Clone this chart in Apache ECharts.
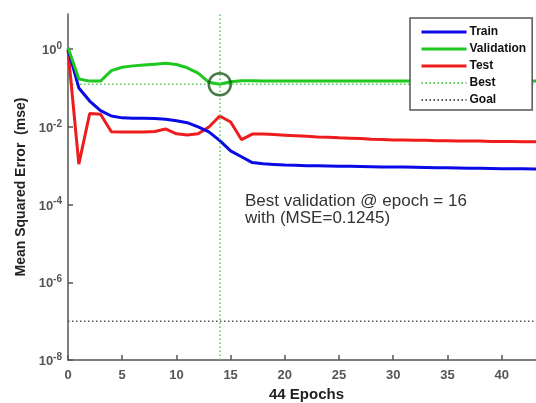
<!DOCTYPE html>
<html>
<head>
<meta charset="utf-8">
<script src="https://cdn.jsdelivr.net/npm/echarts@6/dist/echarts.min.js"></script>
<style>
  html, body { margin: 0; padding: 0; background: #fff; }
  #chart { width: 536px; height: 403px; }
</style>
</head>
<body>
<div id="chart"></div>
<script>
// performance curves (mse per epoch)
const epochs = [];
for (let i = 0; i <= 44; i++) epochs.push(i);

const trainMse = [1.0, 0.10, 0.046, 0.026, 0.019, 0.017, 0.0167, 0.0166, 0.0163, 0.0157, 0.0143, 0.0128, 0.0100, 0.0074, 0.0044,
  0.0024, 0.0017, 0.00120, 0.00112, 0.00108, 0.00104, 0.00102, 0.00100, 0.00099, 0.00098, 0.00097, 0.00096, 0.00095, 0.00094, 0.00093,
  0.00093, 0.00092, 0.00091, 0.00090, 0.00089, 0.00088, 0.00087, 0.00086, 0.00086, 0.00085, 0.00084, 0.00083, 0.00083, 0.00082, 0.00082];
const validMse = [1.1, 0.17, 0.15, 0.15, 0.28, 0.34, 0.37, 0.39, 0.41, 0.43, 0.40, 0.33, 0.24, 0.14, 0.1245,
  0.145, 0.153, 0.153, 0.152, 0.152, 0.152, 0.152, 0.151, 0.151, 0.151, 0.151, 0.150, 0.150, 0.150, 0.150,
  0.150, 0.150, 0.150, 0.150, 0.150, 0.150, 0.150, 0.150, 0.150, 0.150, 0.150, 0.150, 0.150, 0.150, 0.150];
const testMse = [0.95, 0.0011, 0.022, 0.021, 0.0075, 0.0074, 0.0074, 0.0074, 0.0076, 0.0088, 0.0066, 0.0062, 0.0066, 0.0099, 0.019,
  0.0133, 0.0047, 0.0065, 0.0065, 0.0063, 0.0061, 0.0059, 0.0057, 0.0055, 0.0054, 0.0052, 0.0051, 0.0050, 0.0048, 0.0047,
  0.0046, 0.0046, 0.0045, 0.0045, 0.0044, 0.0044, 0.0043, 0.0043, 0.0043, 0.0042, 0.0042, 0.0042, 0.0041, 0.0041, 0.0041];

const bestEpoch = 14;
const bestMse = 0.1245;
const goalMse = 1e-7;
const xTicks = [0, 5, 10, 15, 20, 25, 30, 35, 40];

const font = "'Liberation Sans', Arial, sans-serif";

function pairs(arr) {
  return epochs.map((e, i) => [e, arr[i]]);
}

const chart = echarts.init(document.getElementById("chart"));
chart.setOption({
  animation: false,
  textStyle: { fontFamily: font },
  grid: { left: 68, top: 14, right: -9, bottom: 43, outerBoundsMode: "none" },
  legend: {
    data: [
      { name: "Train", lineStyle: { width: 3 } },
      { name: "Validation", lineStyle: { width: 3 } },
      { name: "Test", lineStyle: { width: 3 } },
      "Best",
      "Goal"
    ],
    orient: "vertical",
    left: 410,
    top: 18,
    padding: [7, 6, 3, 10],
    itemGap: 3,
    itemWidth: 45,
    itemHeight: 14,
    backgroundColor: "#fff",
    borderColor: "#555",
    borderWidth: 1.5,
    borderRadius: 0,
    itemStyle: { opacity: 0 },
    textStyle: { fontFamily: font, fontSize: 12, fontWeight: "bold", color: "#111", lineHeight: 14, padding: [0, 0, 0, -2] }
  },
  xAxis: {
    type: "value",
    min: 0,
    max: 44,
    interval: 5,
    name: "44 Epochs",
    nameLocation: "middle",
    nameGap: 20,
    nameTextStyle: { fontFamily: font, fontSize: 15, fontWeight: "bold", color: "#222" },
    axisLine: { lineStyle: { color: "#555", width: 1.5 } },
    axisTick: { inside: true, length: 5, lineStyle: { color: "#555", width: 1.5 } },
    axisLabel: {
      margin: 9,
      fontFamily: font,
      fontSize: 13,
      fontWeight: "bold",
      color: "#555",
      showMaxLabel: false,
      formatter: v => (xTicks.indexOf(v) >= 0 ? String(v) : "")
    },
    splitLine: { show: false }
  },
  yAxis: {
    type: "log",
    logBase: 10,
    min: 1e-8,
    max: 8,
    interval: 2,
    splitNumber: 4,
    name: "Mean Squared Error  (mse)",
    nameLocation: "middle",
    nameGap: 40,
    nameTextStyle: { fontFamily: font, fontSize: 14, fontWeight: "bold", color: "#222" },
    axisLine: { show: true, lineStyle: { color: "#555", width: 1.5 } },
    axisTick: { inside: true, length: 5, lineStyle: { color: "#555", width: 1.5 } },
    axisLabel: {
      margin: 6,
      showMaxLabel: false,
      formatter: function (v) {
        const e = Math.log10(v);
        const r = Math.round(e);
        if (Math.abs(e - r) > 1e-6 || r % 2 !== 0) return "";
        return "{b|10}{s|" + r + "}";
      },
      rich: {
        b: { fontFamily: font, fontSize: 13, fontWeight: "bold", color: "#555", verticalAlign: "bottom", lineHeight: 16 },
        s: { fontFamily: font, fontSize: 10, fontWeight: "bold", color: "#555", verticalAlign: "top", lineHeight: 10 }
      }
    },
    splitLine: { show: false }
  },
  graphic: [
    {
      type: "text",
      left: 245,
      top: 193,
      style: {
        text: "Best validation @ epoch = 16\nwith (MSE=0.1245)",
        fontFamily: font,
        fontSize: 17,
        lineHeight: 17,
        fill: "#333"
      }
    }
  ],
  series: [
    {
      name: "Goal",
      type: "line",
      symbol: "none",
      data: [[0, goalMse], [44, goalMse]],
      lineStyle: { color: "#555", width: 1.5, type: [1.5, 2.5] },
      itemStyle: { color: "#555" },
      z: 1
    },
    {
      name: "Best",
      type: "line",
      symbol: "none",
      data: [[0, bestMse], [44, bestMse]],
      lineStyle: { color: "#5cc55c", width: 1.5, type: [1.5, 2.5] },
      itemStyle: { color: "#5cc55c" },
      markLine: {
        silent: true,
        symbol: "none",
        label: { show: false },
        lineStyle: { color: "#5cc55c", width: 1.5, type: [1.5, 2.5] },
        data: [{ xAxis: bestEpoch }]
      },
      z: 1
    },
    {
      name: "Test",
      type: "line",
      symbol: "none",
      data: pairs(testMse),
      lineStyle: { color: "#ee1c1c", width: 3 },
      itemStyle: { color: "#ee1c1c" }
    },
    {
      name: "Train",
      type: "line",
      symbol: "none",
      data: pairs(trainMse),
      lineStyle: { color: "#0a0ae6", width: 3 },
      itemStyle: { color: "#0a0ae6" }
    },
    {
      name: "Validation",
      type: "line",
      symbol: "none",
      data: pairs(validMse),
      lineStyle: { color: "#1ec81e", width: 3 },
      itemStyle: { color: "#1ec81e" }
    },
    {
      name: "bestMark",
      type: "scatter",
      symbol: "circle",
      symbolSize: 22,
      data: [[bestEpoch, bestMse]],
      itemStyle: { color: "rgba(0,0,0,0)", borderColor: "#1a5a1a", borderWidth: 2.5 },
      z: 5
    }
  ]
});
</script>
</body>
</html>
